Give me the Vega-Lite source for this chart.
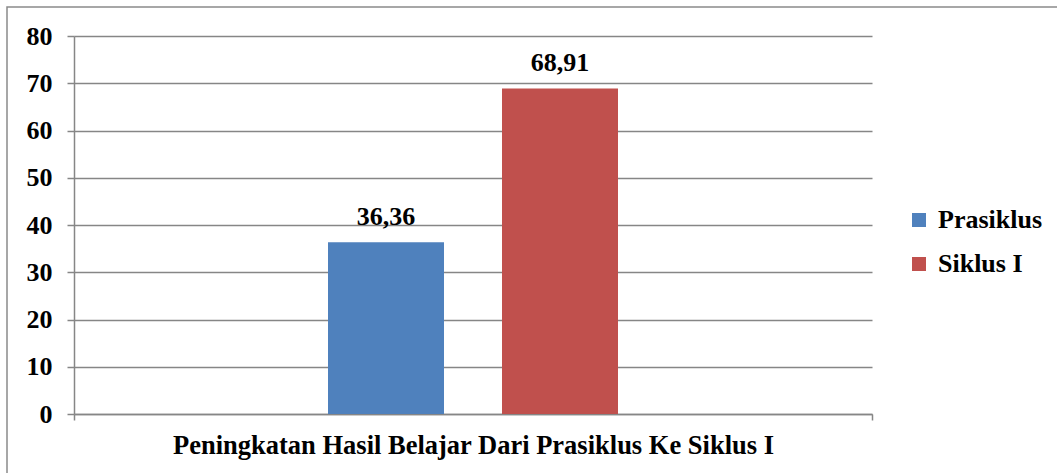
{
  "$schema": "https://vega.github.io/schema/vega-lite/v6.json",
  "width": 1053,
  "height": 469,
  "autosize": {"type": "none"},
  "padding": {"left": 7, "top": 7, "right": -3, "bottom": -3},
  "background": "white",
  "config": {
    "font": "Liberation Serif",
    "view": {"stroke": "#8a8a8a", "strokeWidth": 1.5}
  },
  "data": {
    "values": [
      {"kategori": "Peningkatan Hasil Belajar Dari Prasiklus Ke Siklus I", "seri": "Prasiklus", "nilai": 36.36, "label": "36,36"},
      {"kategori": "Peningkatan Hasil Belajar Dari Prasiklus Ke Siklus I", "seri": "Siklus I", "nilai": 68.91, "label": "68,91"}
    ]
  },
  "encoding": {
    "x": {
      "field": "kategori",
      "type": "nominal",
      "scale": {"range": [67, 865], "paddingInner": 0, "paddingOuter": 0},
      "axis": {
        "orient": "bottom",
        "offset": -62,
        "title": null,
        "grid": false,
        "tickBand": "extent",
        "tickSize": 6,
        "tickColor": "#868686",
        "tickWidth": 1.5,
        "domainColor": "#868686",
        "domainWidth": 1.5,
        "labelAngle": 0,
        "labelBaseline": "alphabetic",
        "labelPadding": 33,
        "labelFontSize": 26.5,
        "labelFontWeight": "bold",
        "labelColor": "black",
        "labelLimit": 2000
      }
    },
    "xOffset": {
      "field": "seri",
      "type": "nominal",
      "scale": {"range": [254, 544], "paddingInner": 0.3333, "paddingOuter": 0}
    },
    "y": {
      "field": "nilai",
      "type": "quantitative",
      "scale": {"domain": [0, 80], "range": [407, 29], "nice": false},
      "axis": {
        "values": [0, 10, 20, 30, 40, 50, 60, 70, 80],
        "offset": -67,
        "title": null,
        "grid": true,
        "gridColor": "#868686",
        "gridWidth": 1.5,
        "tickSize": 7,
        "tickColor": "#868686",
        "tickWidth": 1.5,
        "domainColor": "#868686",
        "domainWidth": 1.5,
        "labelPadding": 15,
        "labelFontSize": 26,
        "labelFontWeight": "bold",
        "labelColor": "black"
      }
    }
  },
  "layer": [
    {
      "mark": {"type": "bar"},
      "encoding": {
        "y2": {"datum": 0},
        "color": {
          "field": "seri",
          "type": "nominal",
          "scale": {"domain": ["Prasiklus", "Siklus I"], "range": ["#4F81BD", "#C0504D"]},
          "legend": {
            "title": null,
            "orient": "none",
            "legendX": 899,
            "legendY": 200,
            "padding": 0,
            "symbolType": "square",
            "symbolSize": 196,
            "symbolStrokeWidth": 0,
            "labelFontSize": 26,
            "labelFontWeight": "bold",
            "labelColor": "black",
            "labelOffset": 6,
            "labelLimit": 500,
            "rowPadding": 18
          }
        }
      }
    },
    {
      "mark": {"type": "text", "dy": -17, "baseline": "alphabetic", "fontSize": 26, "fontWeight": "bold", "color": "black"},
      "encoding": {"text": {"field": "label"}}
    }
  ]
}
